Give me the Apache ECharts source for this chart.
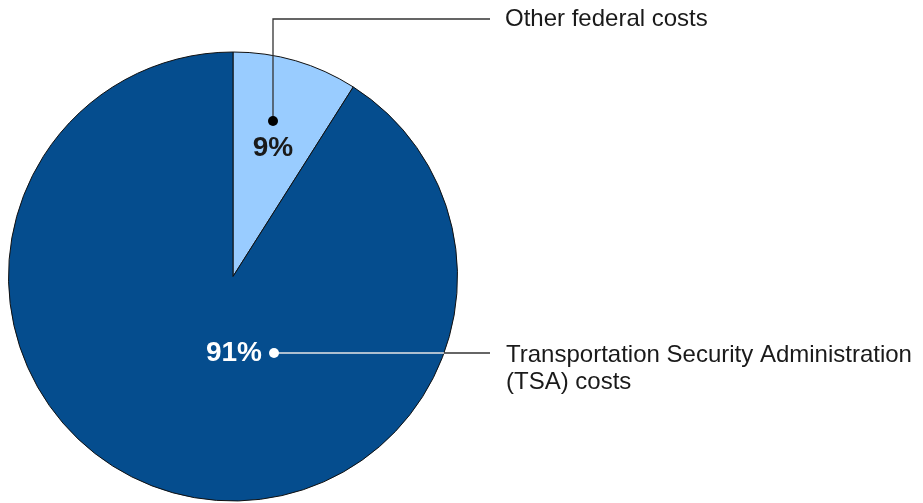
<!DOCTYPE html>
<html>
<head>
<meta charset="utf-8">
<script src="https://cdn.jsdelivr.net/npm/echarts@6/dist/echarts.min.js"></script>
<style>
html,body{margin:0;padding:0;background:#fff;}
#chart{width:923px;height:503px;}
</style>
</head>
<body>
<div id="chart"></div>
<script>
var categories = ['Other federal costs', 'Transportation Security Administration\n(TSA) costs'];
var values = [9, 91];
var valueLabels = ['9%', '91%'];
var colors = ['#99CCFF', '#054D8E'];

var chart = echarts.init(document.getElementById('chart'), null, {renderer: 'canvas'});
var FONT = '"Liberation Sans", Arial, sans-serif';
var cx = 233, cy = 276.5, R = 224.5;
var edgeY = 353;
var edgeX = cx + Math.sqrt(R * R - (edgeY - cy) * (edgeY - cy));

chart.setOption({
  animation: false,
  backgroundColor: '#ffffff',
  series: [{
    type: 'pie',
    center: [cx, cy],
    radius: R,
    startAngle: 90,
    clockwise: true,
    silent: true,
    label: {show: false},
    labelLine: {show: false},
    itemStyle: {borderColor: '#111', borderWidth: 1},
    data: categories.map(function (c, i) {
      return {name: c, value: values[i], itemStyle: {color: colors[i]}};
    })
  }],
  graphic: [
    {type: 'polyline', shape: {points: [[273, 121], [273, 19], [490, 19]]},
     style: {stroke: '#333', lineWidth: 1.3, fill: null}, z: 10},
    {type: 'circle', shape: {cx: 273, cy: 121, r: 5}, style: {fill: '#000'}, z: 11},
    {type: 'text', x: 273, y: 148, z: 11,
     style: {text: valueLabels[0], fill: '#1a1a1a', font: 'bold 28px ' + FONT, textAlign: 'center', textVerticalAlign: 'middle'}},
    {type: 'text', x: 505, y: 19, z: 11,
     style: {text: categories[0], fill: '#1a1a1a', font: '24px ' + FONT, textAlign: 'left', textVerticalAlign: 'middle'}},

    {type: 'line', shape: {x1: 274, y1: edgeY, x2: edgeX, y2: edgeY},
     style: {stroke: '#e6e6e6', lineWidth: 1.3}, z: 10},
    {type: 'line', shape: {x1: edgeX, y1: edgeY, x2: 490, y2: edgeY},
     style: {stroke: '#333', lineWidth: 1.3}, z: 10},
    {type: 'circle', shape: {cx: 274, cy: edgeY, r: 5}, style: {fill: '#fff'}, z: 11},
    {type: 'text', x: 262, y: 353, z: 11,
     style: {text: valueLabels[1], fill: '#fff', font: 'bold 28px ' + FONT, textAlign: 'right', textVerticalAlign: 'middle'}},
    {type: 'text', x: 506, y: 342, z: 11,
     style: {text: categories[1], fill: '#1a1a1a', font: '24px ' + FONT, textAlign: 'left', textVerticalAlign: 'top', lineHeight: 27}}
  ]
});
</script>
</body>
</html>
